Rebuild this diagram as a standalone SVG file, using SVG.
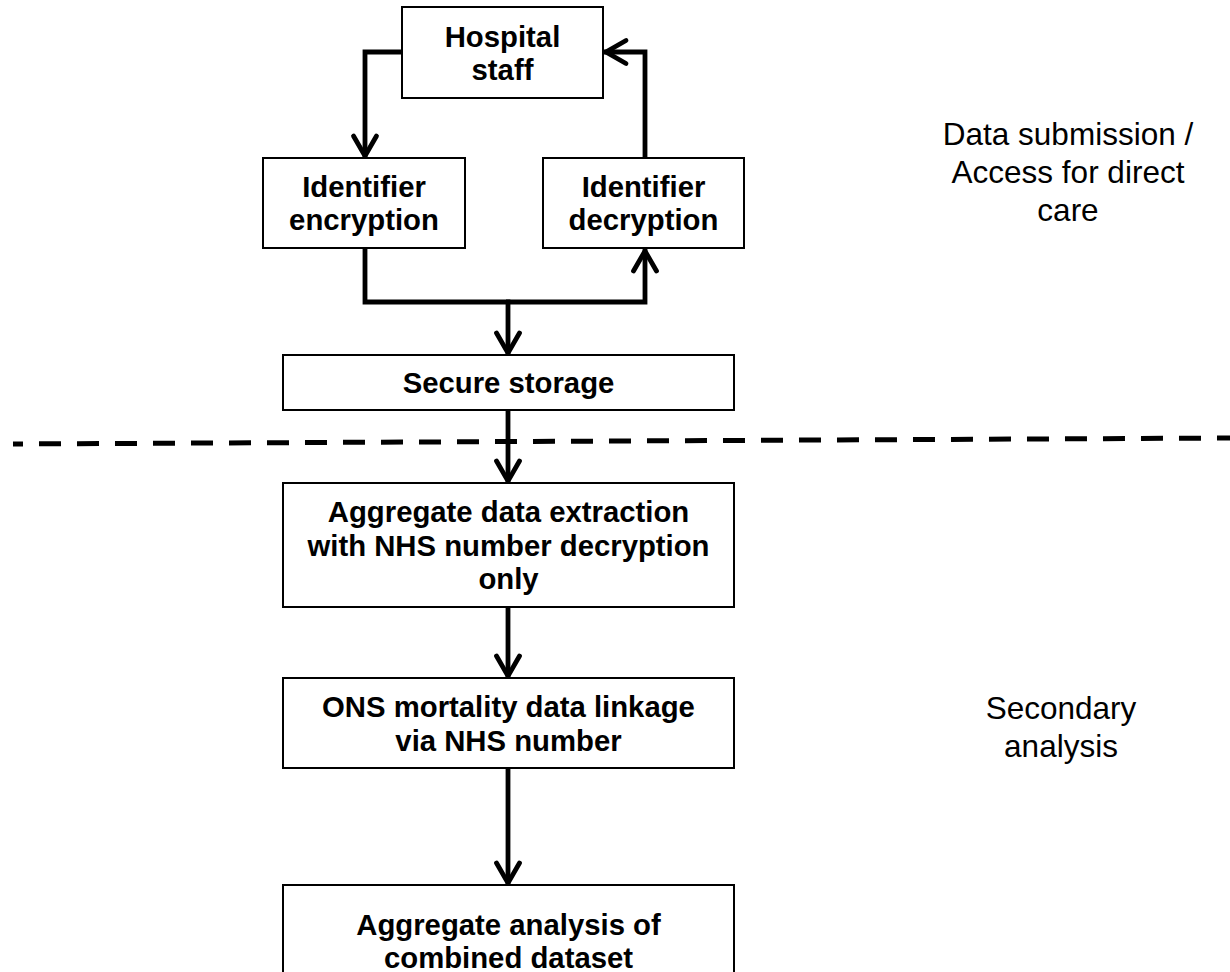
<svg xmlns="http://www.w3.org/2000/svg" width="1230" height="972" viewBox="0 0 1230 972">
<style>
.box{fill:#fff;stroke:#000;stroke-width:2}
.bt{font-family:"Liberation Sans",Arial,sans-serif;font-weight:bold;font-size:29.3px;fill:#000;text-anchor:middle}
.side{font-family:"Liberation Sans",Arial,sans-serif;font-size:31.5px;fill:#000;text-anchor:middle}
.conn{fill:none;stroke:#000;stroke-width:4.8;stroke-linejoin:miter}
.sep{fill:none;stroke:#000;stroke-width:5;stroke-dasharray:22 16;stroke-dashoffset:12}
</style>
<defs>
<marker id="arrow" markerUnits="userSpaceOnUse" markerWidth="34" markerHeight="34" viewBox="-28 -17 34 34" refX="0" refY="0" orient="auto">
<path d="M -22 -11.5 L -2 0 L -22 11.5" fill="none" stroke="#000" stroke-width="4.8" stroke-linecap="round" stroke-linejoin="miter"/>
</marker>
</defs>
<line class="sep" x1="13" y1="444" x2="1230" y2="438"/>
<g id="connectors">
<path class="conn" d="M402 52 H365 V158" marker-end="url(#arrow)"/>
<path class="conn" d="M645 158 V52 H604" marker-end="url(#arrow)"/>
<path class="conn" d="M365 248 V302 H508 V355" marker-end="url(#arrow)"/>
<path class="conn" d="M506 302 H645 V249" marker-end="url(#arrow)"/>
<path class="conn" d="M508 410 V483" marker-end="url(#arrow)"/>
<path class="conn" d="M508 607 V678" marker-end="url(#arrow)"/>
<path class="conn" d="M508 768 V885" marker-end="url(#arrow)"/>
</g>
<g id="hospital-staff">
<rect class="box" x="402" y="7" width="201" height="91"/>
<text class="bt" x="502.5" y="46.5">Hospital</text>
<text class="bt" x="502.5" y="80">staff</text>
</g>
<g id="identifier-encryption">
<rect class="box" x="263" y="158" width="202" height="90"/>
<text class="bt" x="364" y="196.5">Identifier</text>
<text class="bt" x="364" y="230">encryption</text>
</g>
<g id="identifier-decryption">
<rect class="box" x="543" y="158" width="201" height="90"/>
<text class="bt" x="643.5" y="196.5">Identifier</text>
<text class="bt" x="643.5" y="230">decryption</text>
</g>
<g id="secure-storage">
<rect class="box" x="283" y="355" width="451" height="55"/>
<text class="bt" x="508.5" y="393">Secure storage</text>
</g>
<g id="aggregate-extraction">
<rect class="box" x="283" y="483" width="451" height="124"/>
<text class="bt" x="508.5" y="522">Aggregate data extraction</text>
<text class="bt" x="508.5" y="555.5">with NHS number decryption</text>
<text class="bt" x="508.5" y="589">only</text>
</g>
<g id="ons-linkage">
<rect class="box" x="283" y="678" width="451" height="90"/>
<text class="bt" x="508.5" y="716.5">ONS mortality data linkage</text>
<text class="bt" x="508.5" y="750.5">via NHS number</text>
</g>
<g id="aggregate-analysis">
<rect class="box" x="283" y="885" width="451" height="100"/>
<text class="bt" x="508.5" y="935">Aggregate analysis of</text>
<text class="bt" x="508.5" y="968">combined dataset</text>
</g>
<g id="label-submission">
<text class="side" x="1068" y="145">Data submission /</text>
<text class="side" x="1068" y="183">Access for direct</text>
<text class="side" x="1068" y="221">care</text>
</g>
<g id="label-secondary">
<text class="side" x="1061" y="719">Secondary</text>
<text class="side" x="1061" y="757">analysis</text>
</g>
</svg>
